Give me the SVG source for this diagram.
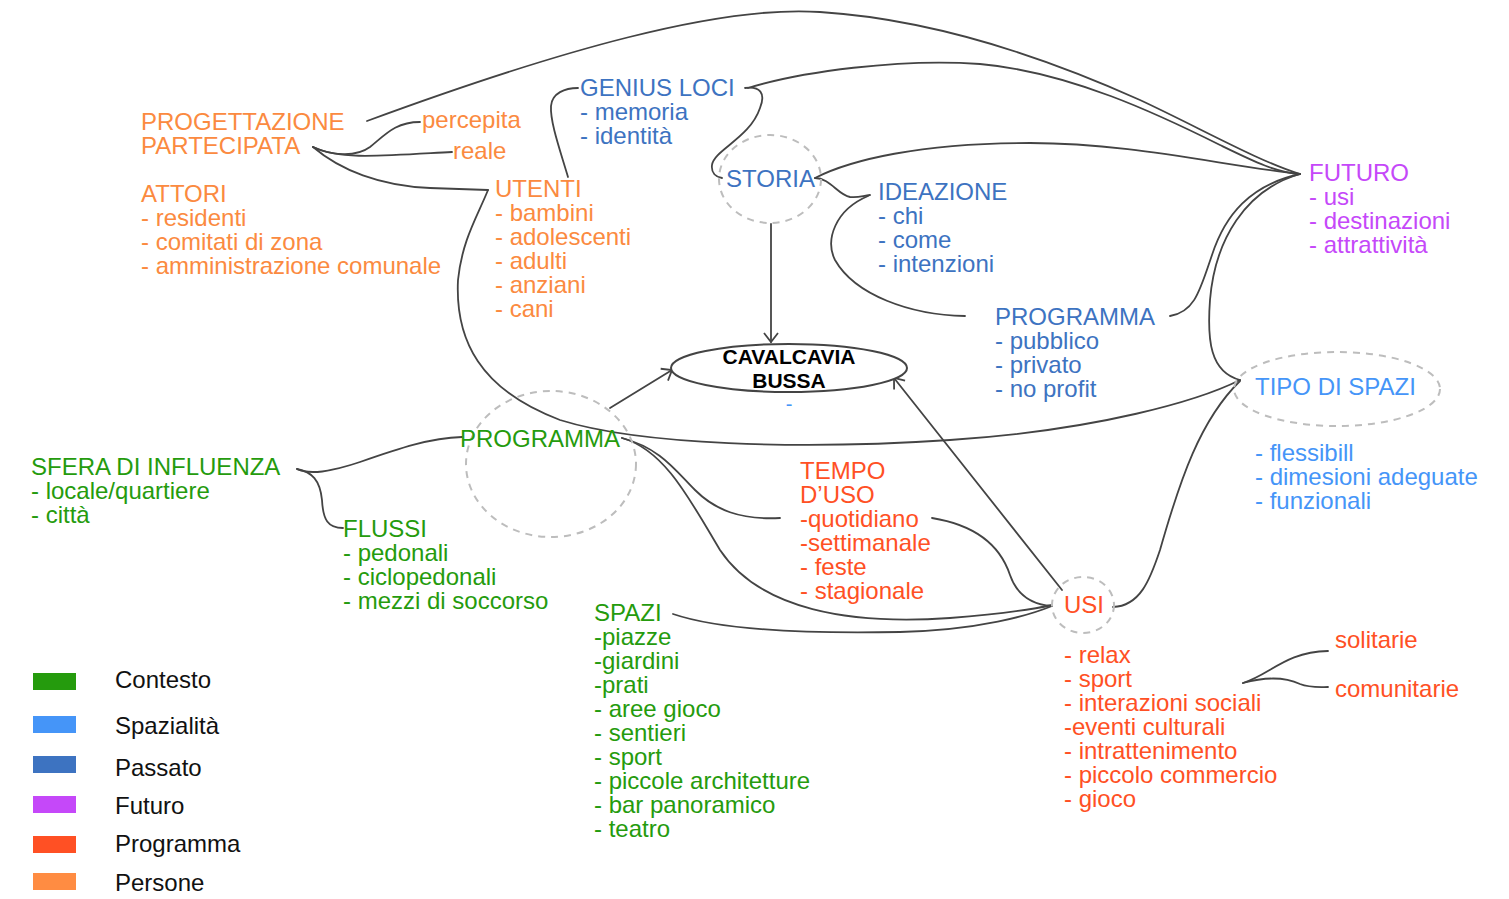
<svg xmlns="http://www.w3.org/2000/svg" width="1509" height="899" viewBox="0 0 1509 899">
<style>
text{font-family:"Liberation Sans",Arial,sans-serif;font-size:24px}
.or{fill:#fb8a40}.gr{fill:#259b0d}.lb{fill:#4595f8}.db{fill:#3d73c1}.pu{fill:#c548f9}.rd{fill:#ff5024}.bk{fill:#111}
.c{fill:none;stroke:#444;stroke-width:1.8;stroke-linecap:round}
.dash{fill:none;stroke:#bdbdbd;stroke-width:2;stroke-dasharray:7 6}
</style>
<defs>
<marker id="arr" viewBox="0 0 20 20" refX="10" refY="10" markerWidth="20" markerHeight="20" markerUnits="userSpaceOnUse" orient="auto">
<path d="M1,3 L10,10 L1,17" fill="none" stroke="#444" stroke-width="1.8"/>
</marker>
</defs>
<rect width="1509" height="899" fill="#fff"/>
<g id="connectors">
<path class="c" d="M367,121 C560,50 720,5 820,12 C930,19 1040,55 1140,100 C1200,128 1260,162 1300,174"/>
<path class="c" d="M748,88 C800,72 900,58 980,64 C1070,72 1160,115 1220,145 C1255,162 1275,172 1300,174"/>
<path class="c" d="M745,88 C760,86 766,93 760,108 C750,138 714,150 712,165 C711,173 716,177 722,178"/>
<path class="c" d="M568,177 C560,150 550,122 551,106 C552,93 565,88 578,88"/>
<path class="c" d="M313,147 C330,155 355,158 370,147 C385,135 395,122 420,122"/>
<path class="c" d="M313,147 C340,160 380,156 452,152"/>
<path class="c" d="M313,147 C340,170 380,186 430,188 L488,190"/>
<path class="c" d="M488,190 C478,215 462,240 458,280 C455,340 480,390 560,420 C640,445 800,450 950,440 C1100,430 1200,400 1240,380"/>
<path class="c" d="M815,178 C830,178 838,195 850,197 C858,198 862,196 870,195"/>
<path class="c" d="M815,178 C850,160 920,143 1030,143 C1130,143 1220,165 1300,174"/>
<path class="c" d="M868,196 C835,210 825,240 835,260 C855,295 910,315 965,316"/>
<path class="c" d="M771,224 L771,342" marker-end="url(#arr)"/>
<path class="c" d="M1170,316 C1195,312 1200,290 1212,255 C1225,215 1250,185 1300,174"/>
<path class="c" d="M1240,380 C1210,372 1207,340 1210,300 C1215,240 1245,190 1300,174"/>
<path class="c" d="M1113,607 C1140,606 1150,580 1160,550 C1180,480 1200,420 1240,381"/>
<path class="c" d="M1062,590 L894,378" marker-end="url(#arr)"/>
<path class="c" d="M610,408 L672,370" marker-end="url(#arr)"/>
<path class="c" d="M297,469 C310,475 330,472 360,462 C400,448 430,438 462,437"/>
<path class="c" d="M297,469 C312,472 320,480 322,500 C323,520 328,528 343,528"/>
<path class="c" d="M622,438 C660,448 675,470 695,490 C715,510 740,520 780,518"/>
<path class="c" d="M622,438 C665,450 690,500 720,550 C760,610 850,625 950,618 C1000,614 1030,610 1052,605"/>
<path class="c" d="M673,614 C720,630 800,634 900,632 C980,630 1030,615 1052,606"/>
<path class="c" d="M932,518 C975,525 1000,545 1010,575 C1018,598 1035,605 1052,606"/>
<path class="c" d="M1243,683 C1270,675 1285,652 1328,651"/>
<path class="c" d="M1243,683 C1265,677 1285,677 1300,684 C1310,688 1320,687 1328,687"/>
</g>
<g id="progettazione"><text class="or" x="141" y="130">PROGETTAZIONE<tspan x="141" y="154">PARTECIPATA</tspan></text></g>
<g id="percepita"><text class="or" x="422" y="128">percepita</text></g>
<g id="reale"><text class="or" x="453" y="159">reale</text></g>
<g id="attori"><text class="or" x="141" y="202">ATTORI<tspan x="141" y="226">- residenti</tspan><tspan x="141" y="250">- comitati di zona</tspan><tspan x="141" y="274">- amministrazione comunale</tspan></text></g>
<g id="utenti"><text class="or" x="495" y="197">UTENTI<tspan x="495" y="221">- bambini</tspan><tspan x="495" y="245">- adolescenti</tspan><tspan x="495" y="269">- adulti</tspan><tspan x="495" y="293">- anziani</tspan><tspan x="495" y="317">- cani</tspan></text></g>
<g id="genius"><text class="db" x="580" y="96">GENIUS LOCI<tspan x="580" y="120">- memoria</tspan><tspan x="580" y="144">- identità</tspan></text></g>
<g id="storia"><ellipse class="dash" cx="770" cy="179" rx="51" ry="44"/><text class="db" x="726" y="187">STORIA</text></g>
<g id="ideazione"><text class="db" x="878" y="200">IDEAZIONE<tspan x="878" y="224">- chi</tspan><tspan x="878" y="248">- come</tspan><tspan x="878" y="272">- intenzioni</tspan></text></g>
<g id="programma-blu"><text class="db" x="995" y="325">PROGRAMMA<tspan x="995" y="349">- pubblico</tspan><tspan x="995" y="373">- privato</tspan><tspan x="995" y="397">- no profit</tspan></text></g>
<g id="futuro"><text class="pu" x="1309" y="181">FUTURO<tspan x="1309" y="205">- usi</tspan><tspan x="1309" y="229">- destinazioni</tspan><tspan x="1309" y="253">- attrattività</tspan></text></g>
<g id="tipo-spazi"><ellipse class="dash" cx="1337" cy="389" rx="103" ry="37"/><text class="lb" x="1255" y="395">TIPO DI SPAZI</text><text class="lb" x="1255" y="461">- flessibill<tspan x="1255" y="485">- dimesioni adeguate</tspan><tspan x="1255" y="509">- funzionali</tspan></text></g>
<g id="cavalcavia"><ellipse cx="789" cy="368" rx="118" ry="24" fill="#fff" stroke="#444" stroke-width="2"/><text x="789" y="364" text-anchor="middle" style="font-weight:bold;font-size:21px;fill:#000">CAVALCAVIA</text><text x="789" y="388" text-anchor="middle" style="font-weight:bold;font-size:21px;fill:#000">BUSSA</text><text class="lb" x="789" y="411" text-anchor="middle" style="font-size:20px">-</text></g>
<g id="programma-verde"><ellipse class="dash" cx="551" cy="464" rx="85" ry="73"/><text class="gr" x="460" y="447">PROGRAMMA</text></g>
<g id="sfera"><text class="gr" x="31" y="475">SFERA DI INFLUENZA<tspan x="31" y="499">- locale/quartiere</tspan><tspan x="31" y="523">- città</tspan></text></g>
<g id="flussi"><text class="gr" x="343" y="537">FLUSSI<tspan x="343" y="561">- pedonali</tspan><tspan x="343" y="585">- ciclopedonali</tspan><tspan x="343" y="609">- mezzi di soccorso</tspan></text></g>
<g id="tempo"><text class="rd" x="800" y="479">TEMPO<tspan x="800" y="503">D’USO</tspan><tspan x="800" y="527">-quotidiano</tspan><tspan x="800" y="551">-settimanale</tspan><tspan x="800" y="575">- feste</tspan><tspan x="800" y="599">- stagionale</tspan></text></g>
<g id="spazi"><text class="gr" x="594" y="621">SPAZI<tspan x="594" y="645">-piazze</tspan><tspan x="594" y="669">-giardini</tspan><tspan x="594" y="693">-prati</tspan><tspan x="594" y="717">- aree gioco</tspan><tspan x="594" y="741">- sentieri</tspan><tspan x="594" y="765">- sport</tspan><tspan x="594" y="789">- piccole architetture</tspan><tspan x="594" y="813">- bar panoramico</tspan><tspan x="594" y="837">- teatro</tspan></text></g>
<g id="usi"><ellipse class="dash" cx="1083" cy="605" rx="31" ry="28"/><text class="rd" x="1064" y="613">USI</text><text class="rd" x="1064" y="663">- relax<tspan x="1064" y="687">- sport</tspan><tspan x="1064" y="711">- interazioni sociali</tspan><tspan x="1064" y="735">-eventi culturali</tspan><tspan x="1064" y="759">- intrattenimento</tspan><tspan x="1064" y="783">- piccolo commercio</tspan><tspan x="1064" y="807">- gioco</tspan></text></g>
<g id="solitarie"><text class="rd" x="1335" y="648">solitarie</text></g>
<g id="comunitarie"><text class="rd" x="1335" y="697">comunitarie</text></g>
<g id="legend">
<rect x="33" y="673" width="43" height="17" fill="#259b0d"/><text class="bk" x="115" y="688">Contesto</text>
<rect x="33" y="716" width="43" height="17" fill="#4595f8"/><text class="bk" x="115" y="734">Spazialità</text>
<rect x="33" y="756" width="43" height="17" fill="#3d73c1"/><text class="bk" x="115" y="776">Passato</text>
<rect x="33" y="796" width="43" height="17" fill="#c548f9"/><text class="bk" x="115" y="814">Futuro</text>
<rect x="33" y="836" width="43" height="17" fill="#ff5024"/><text class="bk" x="115" y="852">Programma</text>
<rect x="33" y="873" width="43" height="17" fill="#ff8c42"/><text class="bk" x="115" y="891">Persone</text>
</g>
</svg>
